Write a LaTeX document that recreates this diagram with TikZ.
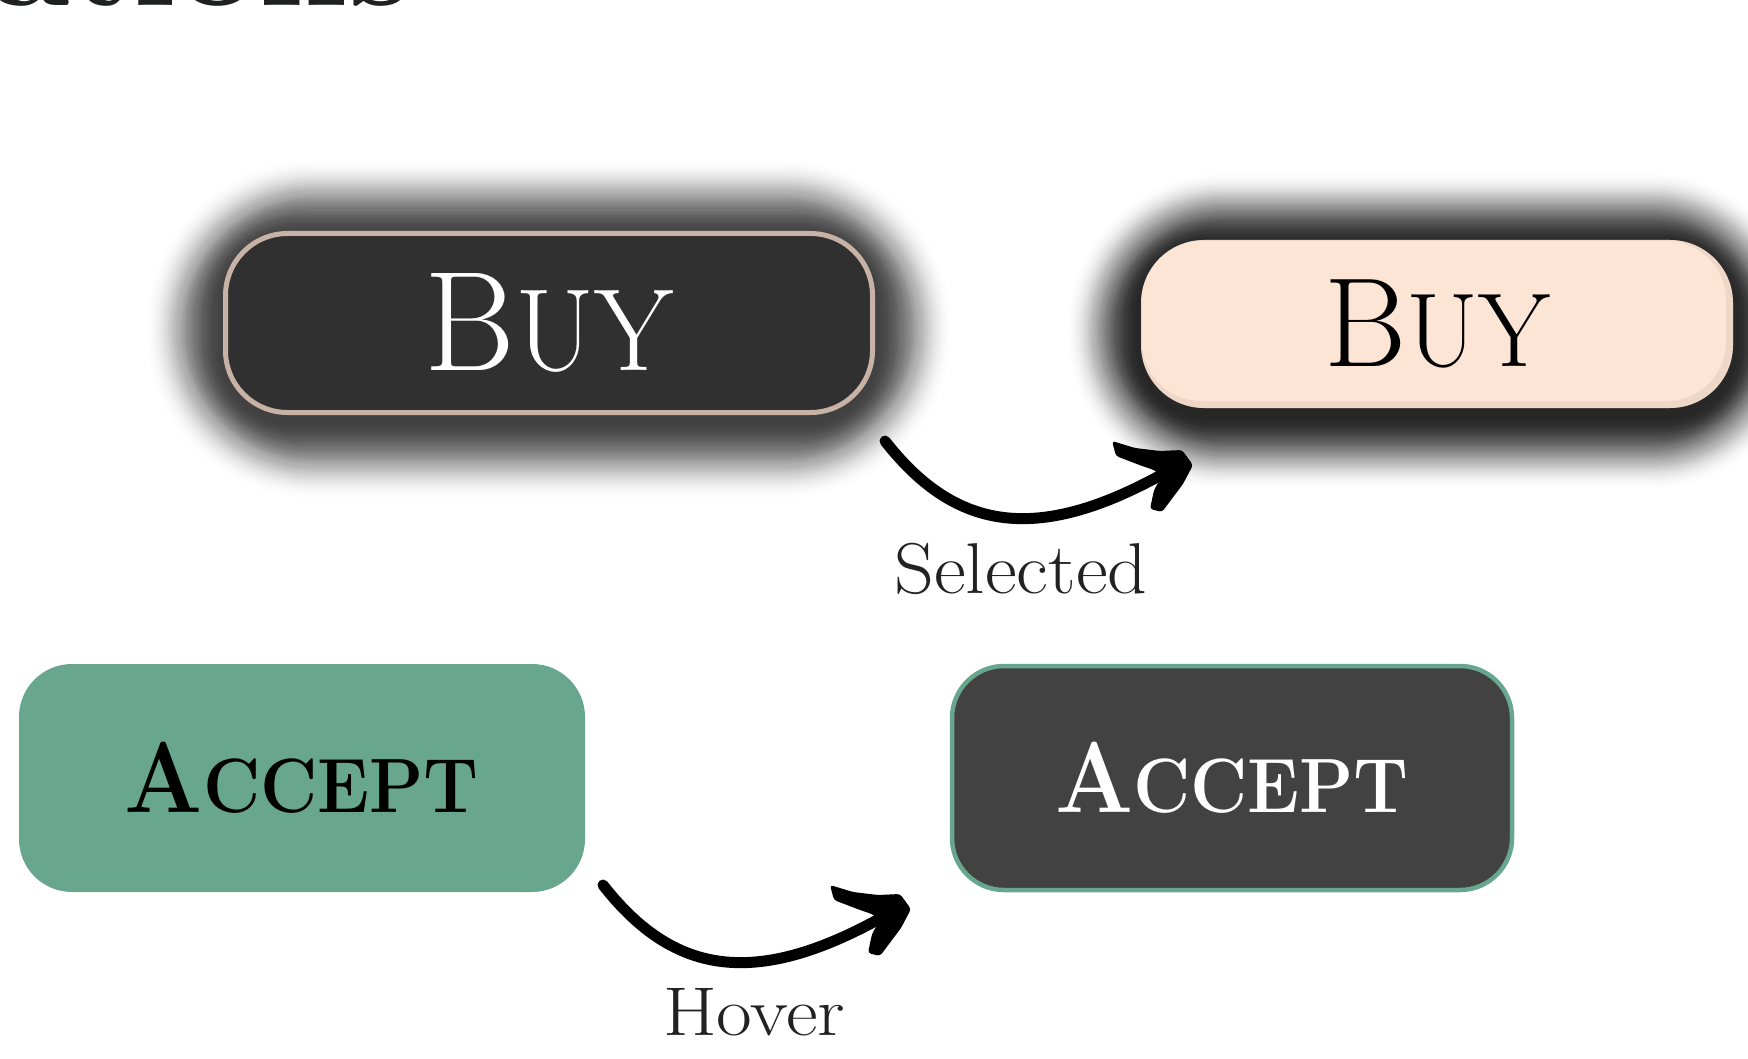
\documentclass[tikz,border=0pt]{standalone}
\usepackage{fontspec}
\usetikzlibrary{backgrounds}

\definecolor{ink}{HTML}{222222}
\definecolor{titleink}{HTML}{1F2121}
\definecolor{buydark}{HTML}{303030}
\definecolor{buyrim}{HTML}{C8B2A6}
\definecolor{peach}{HTML}{FDE5D6}
\definecolor{peachrim}{HTML}{C9AE9F}
\definecolor{sage}{HTML}{68A690}
\definecolor{acceptdark}{HTML}{424242}

% fake small caps: a big initial followed by smaller capitals
\newcommand\capsword[4]{{\fontsize{#1}{#1}\selectfont #3}{\fontsize{#2}{#2}\selectfont #4}}
% stretch a word to a given width, keeping its height
\newcommand\fitword[2]{\resizebox{#1}{\height}{#2}}

% soft shadow: stacked translucent rounded rectangles around a node,
% darkness #4 at the edge falling smoothly (cosine) to nothing at distance #5;
% the corners round off faster than the sides, as a blur does
% #1 node, #2 corner radius, #3 vertical offset, #4 edge darkness, #5 width,
% #6 layers, #7 largest corner radius
\newcommand\softshadow[7]{%
  \foreach \i in {1,...,#6} {%
    \pgfmathsetmacro\grow{#5*\i/#6}%
    \pgfmathsetmacro\rr{min(#2+1.6*\grow, #7+\grow)}%
    \pgfmathsetmacro\din{#4*0.5*(1+cos(180*(\i-1)/#6))}%
    \pgfmathsetmacro\dout{#4*0.5*(1+cos(180*\i/#6))}%
    \pgfmathsetmacro\op{1-(1-\din)/(1-\dout)}%
    \fill[black, opacity=\op, rounded corners=\rr pt]
      ([shift={(-\grow,-\grow+#3)}]#1.north west) rectangle
      ([shift={(\grow,\grow+#3)}]#1.south east);
  }%
}

% hand-drawn arrow head, tip at the given coordinate
\newcommand\handhead[1]{%
  \fill[black, rounded corners=3pt, shift={(#1)}]
    (-80,-25) -- (-57,-18) -- (-32,-15) -- (-10,-16) -- (1,-1) -- (-9,18)
    -- (-30,46) -- (-42,43) -- (-38,24) -- (-30,10) -- (-38,4) -- (-50,0)
    -- (-76,-10) -- cycle;
}

\tikzset{
  btn/.style={rectangle, inner sep=0pt, outer sep=0pt},
  buyoff/.style={btn, fill=buydark, draw=buyrim, line width=5pt,
    rounded corners=62pt, minimum width=647pt, minimum height=179pt, text=white},
  buyon/.style={btn, fill=peach, rounded corners=63pt,
    minimum width=592pt, minimum height=168pt, text=black},
  acceptoff/.style={btn, fill=sage, rounded corners=53pt,
    minimum width=566pt, minimum height=228pt, text=black},
  accepton/.style={btn, fill=acceptdark, draw=sage, line width=4.5pt,
    rounded corners=52pt, minimum width=560pt, minimum height=224pt, text=white},
  statelabel/.style={inner sep=0pt, text=ink, anchor=base},
  stroke/.style={draw=black, line width=11pt, line cap=round},
}

\begin{document}
\begin{tikzpicture}[x=1pt,y=-1pt]
\useasboundingbox (0,0) rectangle (1748,1059);

% heading, cut by the top edge
\node[inner sep=0pt, anchor=base east, text=titleink,
      font=\bfseries\fontsize{140}{140}\selectfont] (title) at (412,6)
  {\fitword{420pt}{ations}};

% buttons
\node[buyoff] (buy1) at (549,323)
  {\fitword{249pt}{\capsword{142}{117}{B}{UY}}};
\node[buyon] (buy2) at (1437,324)
  {\fitword{226pt}{\capsword{127}{105}{B}{UY}}};
\node[acceptoff] (acc1) at (302,778)
  {\fitword{354pt}{\bfseries\capsword{100.6}{77}{A}{CCEPT}}};
\node[accepton] (acc2) at (1232,778)
  {\fitword{354pt}{\bfseries\capsword{100.6}{77}{A}{CCEPT}}};

% background and shadows
\begin{scope}[on background layer]
  \fill[white] (0,0) rectangle (1748,1059);
  \softshadow{buy1}{62}{6}{0.70}{82}{40}{88}
  \softshadow{buy2}{63}{7}{0.80}{76}{40}{83}
\end{scope}

% inner rim on the selected button
\begin{scope}
  \clip[rounded corners=63pt] (buy2.north west) rectangle (buy2.south east);
  \draw[peachrim, opacity=0.25, line width=8pt, rounded corners=63pt]
    ([shift={(-3,-3)}]buy2.north west) rectangle ([shift={(-3,-3)}]buy2.south east);
\end{scope}

% state labels
\node[statelabel, font=\fontsize{72}{72}\selectfont] (lblsel) at (1021,593)
  {\fitword{253pt}{Selected}};
\node[statelabel, font=\fontsize{69}{69}\selectfont] (lblhov) at (754,1035)
  {\fitword{182pt}{Hover}};

% transition arrows
\coordinate (a1s) at (885,441);
\coordinate (a1t) at (1192,466);
\coordinate (a2s) at (603,885);
\coordinate (a2t) at (910,910);

\draw[stroke] (a1s) .. controls +(72,92) and +(-130,74) .. ([shift={(-22,4)}]a1t);
\handhead{a1t}
\draw[stroke] (a2s) .. controls +(72,92) and +(-130,74) .. ([shift={(-22,4)}]a2t);
\handhead{a2t}
\end{tikzpicture}
\end{document}
